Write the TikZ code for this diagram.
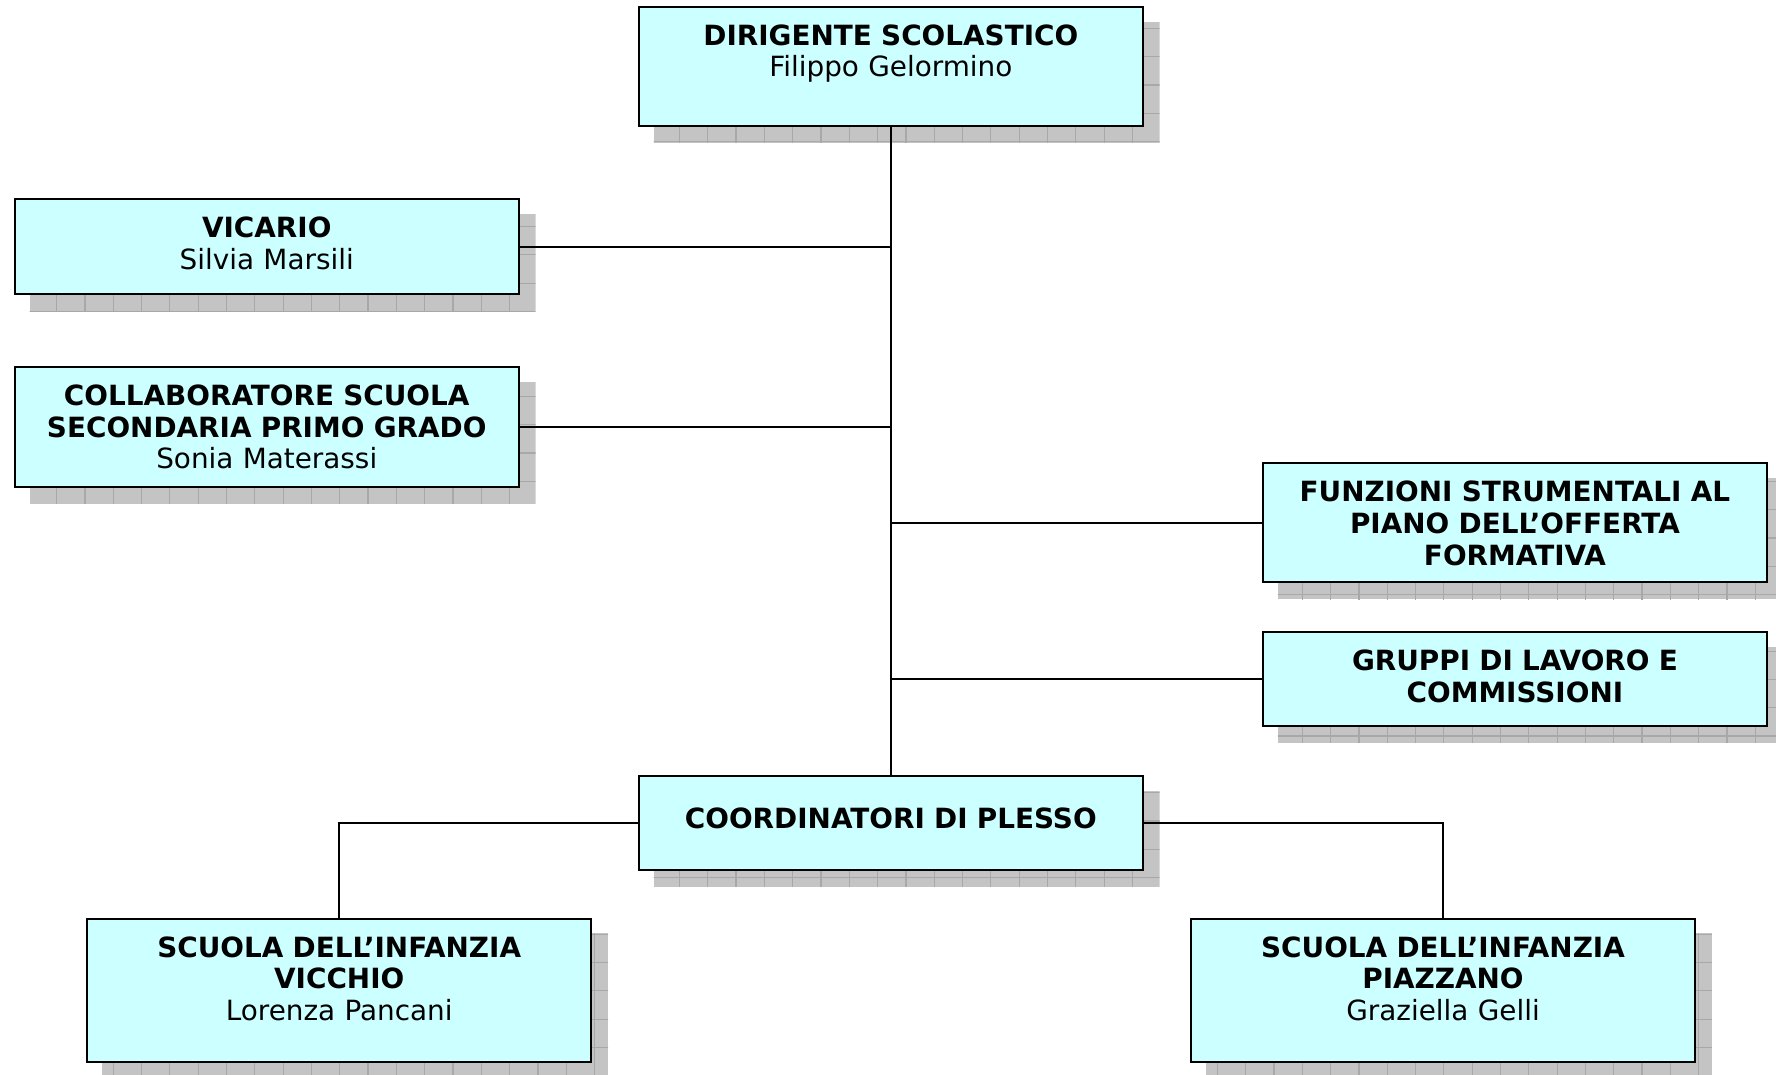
\documentclass[tikz,border=0pt]{standalone}
\usepackage{fontspec}
\setmainfont{DejaVu Sans}
\usetikzlibrary{positioning}
\usetikzlibrary{backgrounds}
\definecolor{boxcyan}{HTML}{CCFFFF}
\definecolor{shadowgray}{HTML}{C4C4C4}
\definecolor{gridgray}{HTML}{A8A8A8}

\begin{document}
\begin{tikzpicture}[x=0.02cm, y=-0.02cm, every node/.style={font=\fontsize{14}{15.9}\selectfont},
    orgbox/.style={draw, fill=boxcyan, line width=1pt, inner xsep=0pt, inner ysep=0pt, text width=8.9cm, align=center, text height=0.68cm},
    link/.style={line width=0.8pt}]
        \useasboundingbox (0,0) rectangle (1568,949);
        % Head of the school
        \node[orgbox, text depth=1.42cm] (dir) at (786.5,58.5) {\textbf{DIRIGENTE SCOLASTICO}\\Filippo Gelormino};
        % Left side: vicario and collaboratore
        \node[orgbox, text depth=1.0cm] (vic) at (235.5,218) {\textbf{VICARIO}\\Silvia Marsili};
        \node[orgbox, text depth=1.44cm] (coll) at (235.5,377) {\textbf{COLLABORATORE SCUOLA}\\\textbf{SECONDARIA PRIMO GRADO}\\Sonia Materassi};
        % Right side: funzioni and gruppi
        \node[orgbox, text depth=1.42cm] (funz) at (1337.5,461.5) {\textbf{FUNZIONI STRUMENTALI AL}\\\textbf{PIANO DELL’OFFERTA}\\\textbf{FORMATIVA}};
        \node[orgbox, text depth=0.98cm] (grup) at (1337.5,599.5) {\textbf{GRUPPI DI LAVORO E}\\\textbf{COMMISSIONI}};
        % Coordinatori and the two schools
        \node[orgbox, text height=0.93cm, text depth=0.73cm] (coord) at (786.5,726.5) {\textbf{COORDINATORI DI PLESSO}};
        \node[orgbox, text depth=1.86cm] (vicchio) at (299.5,874.5) {\textbf{SCUOLA DELL’INFANZIA}\\\textbf{VICCHIO}\\Lorenza Pancani};
        \node[orgbox, text depth=1.86cm] (piazzano) at (1274,874.5) {\textbf{SCUOLA DELL’INFANZIA}\\\textbf{PIAZZANO}\\Graziella Gelli};

        \begin{scope}[on background layer]
            % Shadows with grid
            \foreach \n in {dir,vic,coll,funz,grup,coord,vicchio,piazzano} {
                \begin{scope}
                    \clip ([shift={(14,14)}]\n.south west) rectangle ([shift={(14,14)}]\n.north east);
                    \fill[shadowgray] ([shift={(14,14)}]\n.south west) rectangle ([shift={(14,14)}]\n.north east);
                    \draw[gridgray, step=0.5cm, line width=0.6pt] (0,0) grid (1600,960);
                \end{scope}
            }
            % Connectors
            \draw[link] (dir.south) -- (coord.north);
            \draw[link] (vic.east) -- (vic.east -| dir.south);
            \draw[link] (coll.east) -- (coll.east -| dir.south);
            \draw[link] (funz.west) -- (funz.west -| dir.south);
            \draw[link] (grup.west) -- (grup.west -| dir.south);
            \draw[link] (coord.west) -| (vicchio.north);
            \draw[link] (coord.east) -| (piazzano.north);
        \end{scope}
\end{tikzpicture}
\end{document}
